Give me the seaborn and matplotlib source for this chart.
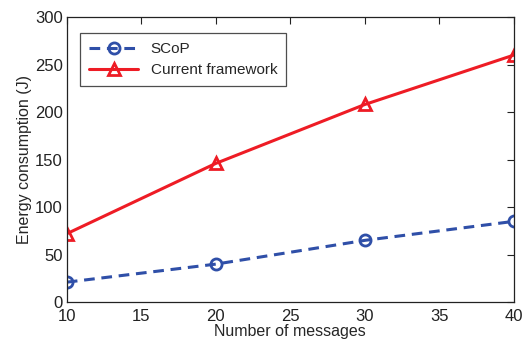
import matplotlib
matplotlib.use("Agg")
import matplotlib.pyplot as plt
import seaborn as sns
import pandas as pd

# Data
messages = [10, 20, 30, 40]
scop_energy = [21, 40, 65, 85]
current_energy = [72, 146, 208, 260]

df = pd.DataFrame({
    "messages": messages * 2,
    "energy": scop_energy + current_energy,
    "method": ["SCoP"] * 4 + ["Current framework"] * 4,
})

sns.set_style("white")
plt.rcParams["font.family"] = ["Liberation Sans", "DejaVu Sans"]

fig, ax = plt.subplots(figsize=(5.26, 3.41), dpi=100)

sns.lineplot(data=df, x="messages", y="energy", hue="method", style="method",
             palette={"SCoP": "#2f4fa8", "Current framework": "#ee1c25"},
             dashes={"SCoP": (3.5, 2.2), "Current framework": ""},
             markers={"SCoP": "o", "Current framework": "^"},
             markersize=8, markerfacecolor="none", markeredgewidth=2,
             linewidth=2.2, ax=ax)

for line in ax.lines:
    line.set_markerfacecolor("none")
    line.set_markeredgecolor(line.get_color())

ax.set_xlim(10, 40)
ax.set_ylim(0, 300)
ax.set_xticks(range(10, 41, 5))
ax.set_yticks(range(0, 301, 50))
ax.set_xlabel("Number of messages", fontsize=11.5, labelpad=0)
ax.set_ylabel("Energy consumption (J)", fontsize=11.5, labelpad=2)
ax.tick_params(direction="in", top=True, right=True, labelsize=12, length=5,
               width=0.8, colors="#222222", labelcolor="#222222")
ax.tick_params(axis="x", pad=5)
ax.tick_params(axis="y", pad=3)
for s in ax.spines.values():
    s.set_color("#222222")
    s.set_linewidth(0.9)

leg = ax.legend(loc="upper left", bbox_to_anchor=(0.02, 0.96), fontsize=11,
                frameon=True, fancybox=False, edgecolor="#222222",
                handlelength=3.2, borderpad=0.6, labelspacing=0.45,
                borderaxespad=0.3)
leg.get_frame().set_linewidth(0.9)
for h in leg.legend_handles:
    h.set_markerfacecolor("none")
    h.set_markeredgecolor(h.get_color())

fig.subplots_adjust(left=0.127, right=0.977, top=0.95, bottom=0.114)
fig.savefig("out.png", dpi=100)
